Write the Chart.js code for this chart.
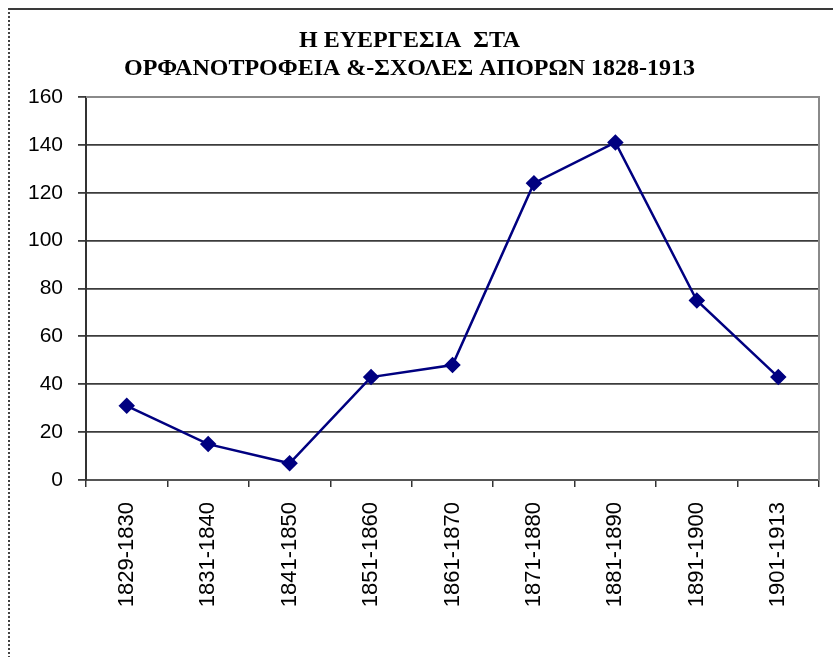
<!DOCTYPE html>
<html>
<head>
<meta charset="utf-8">
<script src="https://cdn.jsdelivr.net/npm/chart.js@4"></script>
<style>
  html, body { margin: 0; padding: 0; background: #fff; }
  #wrap { position: relative; width: 833px; height: 657px; overflow: hidden; }
  #frame {
    position: absolute; left: 8px; top: 8px; width: 900px; height: 700px;
    border-top: 2px solid #3a3a3a; border-left: 2px dotted #444;
  }
  canvas { position: absolute; left: 0; top: 0; }
</style>
</head>
<body>
<div id="wrap">
  <div id="frame"></div>
  <canvas id="chart" width="833" height="657"></canvas>
</div>
<script>
// Ευεργεσία σε ορφανοτροφεία και σχολές απόρων
const titleLines = ['Η ΕΥΕΡΓΕΣΙΑ  ΣΤΑ', 'ΟΡΦΑΝΟΤΡΟΦΕΙΑ &-ΣΧΟΛΕΣ ΑΠΟΡΩΝ 1828-1913'];
const periods = ['1829-1830', '1831-1840', '1841-1850', '1851-1860', '1861-1870',
                 '1871-1880', '1881-1890', '1891-1900', '1901-1913'];
const values = [31, 15, 7, 43, 48, 124, 141, 75, 43];
const yMin = 0;
const yMax = 160;
const yStep = 20;

// πλαίσιο γύρω από την περιοχή του γραφήματος
const plotFrame = {
  id: 'plotFrame',
  beforeDatasetsDraw(chart) {
    const a = chart.chartArea;
    const ctx = chart.ctx;
    ctx.save();
    ctx.strokeStyle = '#8a8a8a';
    ctx.lineWidth = 2;
    ctx.beginPath();
    ctx.moveTo(a.left, a.top);
    ctx.lineTo(a.right, a.top);
    ctx.lineTo(a.right, a.bottom);
    ctx.stroke();
    ctx.restore();
  }
};

const sansFamily = '"Liberation Sans", Arial, sans-serif';

new Chart(document.getElementById('chart'), {
  type: 'line',
  data: {
    labels: periods,
    datasets: [{
      data: values,
      borderColor: '#000080',
      backgroundColor: '#000080',
      borderWidth: 2.5,
      pointStyle: 'rectRot',
      pointRadius: 6.5,
      pointHoverRadius: 6.5,
      tension: 0
    }]
  },
  options: {
    responsive: false,
    animation: false,
    layout: { padding: { left: 0, right: 14, top: 0, bottom: 0 } },
    plugins: {
      legend: { display: false },
      tooltip: { enabled: false },
      title: {
        display: true,
        text: titleLines,
        color: '#000',
        font: { family: '"Liberation Serif", "Times New Roman", serif', size: 24, weight: 'bold', lineHeight: 28 / 24 },
        padding: { top: 27, bottom: 14 }
      }
    },
    scales: {
      x: {
        offset: true,
        afterFit(scale) { scale.height = 177; },
        grid: {
          offset: true,
          drawOnChartArea: false,
          drawTicks: true,
          tickLength: 7,
          color: '#333',
          lineWidth: 1.5
        },
        border: { display: true, color: '#555', width: 2 },
        ticks: {
          color: '#000',
          font: { family: sansFamily, size: 22 },
          minRotation: 90,
          maxRotation: 90,
          padding: 15,
          autoSkip: false
        }
      },
      y: {
        min: yMin,
        max: yMax,
        afterFit(scale) { scale.width = 86; },
        grid: {
          color: '#3c3c3c',
          lineWidth: 1.8,
          drawTicks: true,
          tickLength: 8
        },
        border: { display: true, color: '#333', width: 2 },
        ticks: {
          stepSize: yStep,
          color: '#000',
          font: { family: sansFamily, size: 21 },
          padding: 15
        }
      }
    }
  },
  plugins: [plotFrame]
});
</script>
</body>
</html>
